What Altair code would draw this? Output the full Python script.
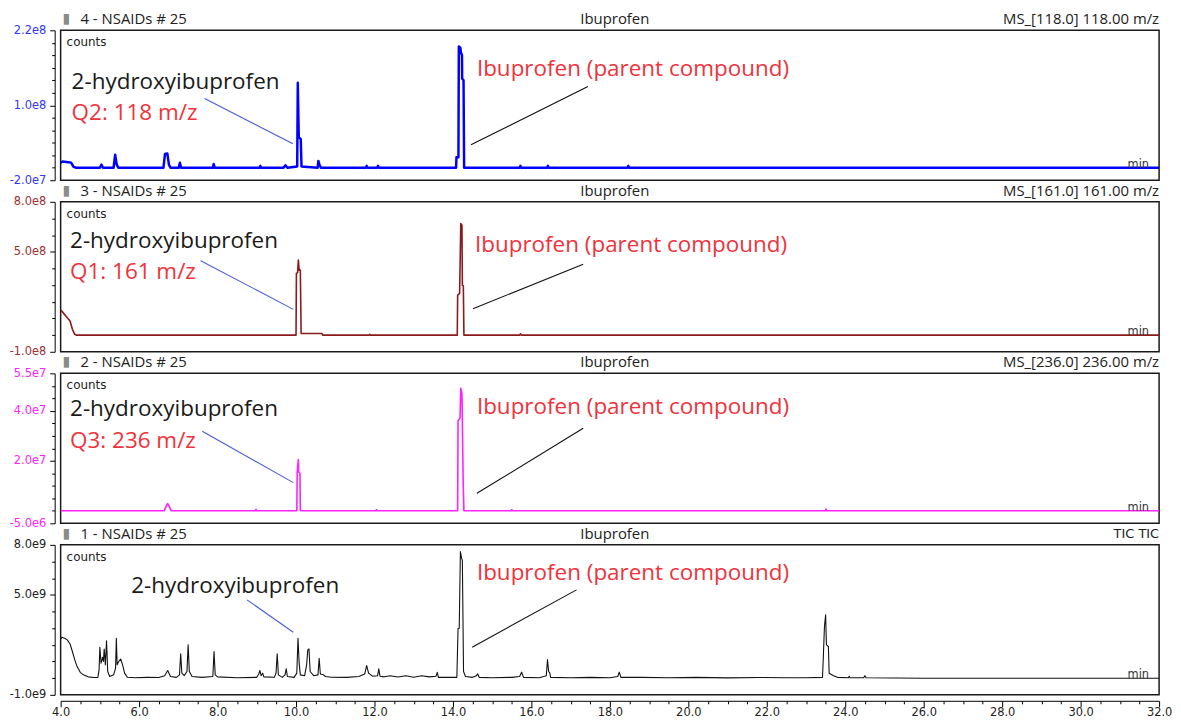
import altair as alt
import pandas as pd

# ---------------- chromatogram traces: (retention time [min], intensity [counts]) ----------------
trace_118 = [
    (4.00, 8e6), (4.05, 1.0e7), (4.20, 9e6), (4.27, 8e6), (4.33, 1.5e6), (4.40, 0),
    (5.00, 0), (5.04, 5e6), (5.08, 0), (5.35, 0), (5.39, 2.1e7), (5.43, 5e6), (5.47, 0),
    (6.62, 0), (6.66, 2.2e7), (6.72, 2.3e7), (6.76, 5e6), (6.80, 0),
    (7.01, 0), (7.04, 8e6), (7.07, 0), (7.88, 0), (7.90, 6e6), (7.93, 0),
    (9.07, 0), (9.09, 3e6), (9.11, 0), (9.68, 0), (9.73, 4e6), (9.78, 0),
    (10.03, 2e6), (10.045, 1.36e8), (10.07, 4.8e7), (10.08, 4.8e7), (10.12, 4.6e7), (10.14, 2e6),
    (10.55, 0), (10.57, 1.1e7), (10.60, 4e6), (10.64, 0),
    (11.78, 0), (11.80, 3e6), (11.82, 0), (12.07, 0), (12.09, 3e6), (12.11, 0),
    (14.08, 0), (14.09, 1.7e7), (14.14, 1.7e7), (14.15, 1.94e8), (14.19, 1.92e8), (14.20, 1.85e8),
    (14.23, 1.80e8), (14.235, 1.43e8), (14.27, 1.40e8), (14.285, 0),
    (15.70, 0), (15.72, 3e6), (15.74, 0), (16.40, 0), (16.42, 3e6), (16.44, 0),
    (18.45, 0), (18.47, 3e6), (18.49, 0), (32.0, 0),
]
trace_161 = [
    (4.00, 1.5e8), (4.03, 1.44e8), (4.15, 1.1e8), (4.24, 8.5e7), (4.30, 3.5e7), (4.36, 5e6), (4.40, 0),
    (10.00, 0), (10.01, 3.7e8), (10.04, 3.75e8), (10.06, 4.5e8), (10.08, 3.9e8), (10.11, 3.9e8),
    (10.13, 1e7), (10.66, 1e7), (10.68, 0),
    (11.86, 0), (11.88, 5e6), (11.90, 0),
    (14.11, 0), (14.12, 2.4e8), (14.17, 2.5e8), (14.20, 6.7e8), (14.23, 6.6e8), (14.24, 3.0e8),
    (14.265, 2.95e8), (14.28, 0),
    (15.70, 0), (15.72, 8e6), (15.74, 0), (32.0, 0),
]
trace_236 = [
    (4.00, 0), (6.64, 0), (6.70, 2.2e6), (6.73, 2.9e6), (6.76, 2.0e6), (6.82, 0),
    (8.96, 0), (8.98, 6e5), (9.00, 0),
    (10.02, 0), (10.03, 1.55e7), (10.06, 2.05e7), (10.07, 1.55e7), (10.10, 1.5e7), (10.11, 0),
    (12.03, 0), (12.05, 5e5), (12.07, 0),
    (14.12, 0), (14.13, 3.6e7), (14.18, 3.7e7), (14.20, 4.9e7), (14.23, 4.7e7), (14.26, 1.2e7), (14.28, 0),
    (15.48, 0), (15.50, 5e5), (15.52, 0), (23.49, 0), (23.51, 7e5), (23.53, 0), (32.0, 0),
]
trace_tic = [
    (4.00, 2.35e9), (4.03, 2.45e9), (4.10, 2.4e9), (4.17, 2.3e9), (4.24, 2.05e9), (4.30, 1.6e9),
    (4.36, 1.1e9), (4.41, 7.5e8), (4.50, 3.5e8), (4.58, 2e8), (4.70, 8e7), (4.85, 4e7), (4.95, 5e7),
    (4.98, 5e8), (5.00, 1.85e9), (5.03, 9e8), (5.07, 1.25e9), (5.09, 1.0e9), (5.11, 1.75e9),
    (5.14, 8e8), (5.17, 2.25e9), (5.20, 4e8), (5.25, 1e8), (5.35, 2e8), (5.40, 6e8), (5.42, 2.4e9),
    (5.44, 8e8), (5.48, 1.0e9), (5.53, 1.15e9), (5.58, 8e8), (5.63, 3e8), (5.70, 6e7), (5.90, 3e7),
    (6.20, 5e7), (6.50, 4e7), (6.65, 1.5e8), (6.73, 4.6e8), (6.80, 1e8), (6.95, 5e7),
    (7.03, 2e8), (7.06, 1.46e9), (7.09, 3e8), (7.15, 1.5e8), (7.22, 4e8), (7.25, 2.0e9), (7.28, 4e8),
    (7.35, 1e8), (7.60, 5e7), (7.88, 1e8), (7.91, 1.6e9), (7.94, 2e8), (8.00, 8e7), (8.50, 3e7),
    (9.00, 5e7), (9.05, 2.5e8), (9.08, 4.6e8), (9.11, 1.5e8), (9.15, 3e8), (9.18, 8e7),
    (9.45, 6e7), (9.49, 3e8), (9.52, 1.46e9), (9.55, 2e8), (9.65, 5e7), (9.72, 2e8), (9.75, 5.6e8),
    (9.78, 1e8), (9.95, 5e7), (10.02, 3e8), (10.05, 2.4e9), (10.08, 9e8), (10.11, 2e8),
    (10.22, 1.5e8), (10.27, 8e8), (10.30, 1.7e9), (10.33, 1.76e9), (10.36, 4e8), (10.45, 1.5e8),
    (10.56, 2e8), (10.59, 1.2e9), (10.62, 2.5e8), (10.70, 2e8), (10.75, 1.0e8), (10.90, 6e7),
    (11.30, 5e7), (11.60, 1e8), (11.75, 2.5e8), (11.80, 7.6e8), (11.85, 3e8), (11.95, 1.2e8),
    (12.08, 1.5e8), (12.11, 5.6e8), (12.14, 1.2e8), (12.25, 8e7), (12.40, 1.5e8), (12.60, 7e7),
    (12.80, 1.5e8), (13.00, 6e7), (13.20, 1.5e8), (13.40, 8e7), (13.57, 1.2e8), (13.60, 3.5e8),
    (13.63, 5e7), (14.10, 5e7), (14.13, 2.96e9), (14.16, 3.0e9), (14.19, 7.6e9), (14.22, 7.2e9),
    (14.24, 7.06e9), (14.27, 4e8), (14.32, 1e8), (14.50, 5e7), (14.60, 1.5e8), (14.63, 2.6e8),
    (14.67, 5e7), (15.00, 3e7), (15.50, 5e7), (15.70, 1e8), (15.75, 3.6e8), (15.80, 5e7),
    (16.20, 3e7), (16.38, 1.5e8), (16.41, 1.12e9), (16.44, 4e8), (16.47, 3e8), (16.49, 5e7),
    (17.00, 3e7), (17.50, 5e7), (18.00, 3e7), (18.20, 1e8), (18.24, 3.6e8), (18.28, 5e7),
    (18.80, 5e7), (19.50, 3e7), (20.20, 5e7), (21.00, 2e7), (21.80, 4e7), (22.50, 3e7),
    (23.00, 3e7), (23.42, 5e7), (23.44, 1.2e9), (23.47, 3.1e9), (23.50, 3.8e9), (23.52, 2.0e9),
    (23.57, 1.9e9), (23.59, 3e8), (23.70, 1.5e8), (23.80, 5e7), (24.08, 3e7), (24.10, 1.2e8),
    (24.12, 3e7), (24.47, 3e7), (24.50, 1.5e8), (24.53, 3e7), (26.00, 0), (32.0, 0),
]

# ---------------- panel texts ----------------
panel_ids = ["4 - NSAIDs # 25", "3 - NSAIDs # 25", "2 - NSAIDs # 25", "1 - NSAIDs # 25"]
panel_compound = ["Ibuprofen", "Ibuprofen", "Ibuprofen", "Ibuprofen"]
panel_channel = ["MS_[118.0] 118.00 m/z", "MS_[161.0] 161.00 m/z", "MS_[236.0] 236.00 m/z", "TIC TIC"]
metab_label = "2-hydroxyibuprofen"
parent_label = "Ibuprofen (parent compound)"
quant_labels = ["Q2: 118 m/z", "Q1: 161 m/z", "Q3: 236 m/z", ""]

# ---------------- axes ----------------
x_domain = [4.0, 32.0]
x_ticks = [4.0 + 0.5 * i for i in range(57)]
y_domains = [[-2e7, 2.2e8], [-1e8, 8e8], [-5e6, 5.5e7], [-1e9, 8e9]]
y_ticks = [
    [-2e7, 0, 2e7, 4e7, 6e7, 8e7, 1e8, 1.2e8, 1.4e8, 1.6e8, 1.8e8, 2.0e8, 2.2e8],
    [-1e8, 0, 1e8, 2e8, 3e8, 4e8, 5e8, 6e8, 7e8, 8e8],
    [-5e6, 0, 5e6, 1e7, 1.5e7, 2e7, 2.5e7, 3e7, 3.5e7, 4e7, 4.5e7, 5e7, 5.5e7],
    [-1e9, 0, 1e9, 2e9, 3e9, 4e9, 5e9, 6e9, 7e9, 8e9],
]
y_labels = [
    {2.2e8: "2.2e8", 1.0e8: "1.0e8", -2e7: "-2.0e7"},
    {8e8: "8.0e8", 5e8: "5.0e8", -1e8: "-1.0e8"},
    {5.5e7: "5.5e7", 4e7: "4.0e7", 2e7: "2.0e7", -5e6: "-5.0e6"},
    {8e9: "8.0e9", 5e9: "5.0e9", -1e9: "-1.0e9"},
]

# ---------------- annotation anchor points (data units) ----------------
metab_text_pos = [(4.28, 1.37e8), (4.24, 5.66e8), (4.24, 4.06e7), (5.80, 5.55e9)]
quant_text_pos = [(4.28, 8.74e7), (4.24, 3.80e8), (4.24, 2.80e7), (4.24, 0)]
parent_text_pos = [(14.61, 1.584e8), (14.56, 5.39e8), (14.61, 4.16e7), (14.61, 6.30e9)]
metab_leader = [(7.67, 1.11e8, 9.92, 3.84e7), (7.57, 4.47e8, 9.93, 1.546e8),
                (7.61, 3.18e7, 9.93, 1.128e7), (8.75, 4.7e9, 9.93, 2.76e9)]
parent_leader = [(14.46, 3.68e7, 17.44, 1.30e8), (14.51, 1.59e8, 17.32, 4.25e8),
                 (14.61, 7e6, 17.32, 3.3e7), (14.49, 1.86e9, 17.15, 5.3e9)]
min_pos = (31.47, 0)

# ---------------- styles ----------------
traces = [trace_118, trace_161, trace_236, trace_tic]
line_colors = ["#0000ff", "#8b1a1a", "#ff22ff", "#111111"]
line_widths = [2.5, 1.6, 1.6, 1.1]
label_colors = ["#3333ff", "#9b3030", "#ff22ff", "#222222"]
PLOT_W = 1106
PLOT_H = 151
HDR_Y = -11
FONT_HDR = "Open Sans"
FONT_TXT = "Open Sans"
FONT_AX = "DejaVu Sans"


def y_axis(i):
    labs = y_labels[i]
    expr = ""
    for v, s in labs.items():
        expr += f"abs(datum.value - ({v!r})) < 1 ? '{s}' : "
    expr += "''"
    test = " || ".join(f"abs(datum.value - ({v!r})) < 1" for v in labs)
    return alt.Axis(
        values=y_ticks[i], labelExpr=expr, labelColor=label_colors[i], labelFont=FONT_AX,
        labelFontSize=11.5, labelPadding=4, offset=6, grid=False, title=None,
        labelOverlap=False, labelFlush=False, domainColor="#000", tickColor="#000",
        tickSize={"condition": {"test": test, "value": 5}, "value": 3},
    )


def x_axis(last):
    if not last:
        return None
    return alt.Axis(
        values=x_ticks, labelExpr="abs(datum.value % 2) < 0.01 ? format(datum.value, '.1f') : ''",
        labelFont=FONT_AX, labelFontSize=11.5, labelColor="#222", labelPadding=0, offset=6,
        grid=False, title=None, labelOverlap=False, labelFlush=False,
        domainColor="#000", tickColor="#000",
        tickSize={"condition": {"test": "abs(datum.value % 2) < 0.01", "value": 6}, "value": 3},
    )


def panel(i):
    last = i == 3
    xs = alt.Scale(domain=x_domain, nice=False, zero=False)
    ys = alt.Scale(domain=y_domains[i], nice=False, zero=False)
    xa = x_axis(last)
    ya = y_axis(i)

    def X(f):
        return alt.X(f, type="quantitative", scale=xs, axis=xa, title=None)

    def Y(f):
        return alt.Y(f, type="quantitative", scale=ys, axis=ya, title=None)

    df = pd.DataFrame(traces[i], columns=["t", "v"])
    line = alt.Chart(df).mark_line(
        color=line_colors[i], strokeWidth=line_widths[i], strokeJoin="round", clip=True
    ).encode(x=X("t"), y=Y("v"))

    # annotation texts
    rows = [
        {"t": metab_text_pos[i][0], "v": metab_text_pos[i][1], "s": metab_label, "c": "#1a1a1a"},
        {"t": parent_text_pos[i][0], "v": parent_text_pos[i][1], "s": parent_label, "c": "#f0323c"},
    ]
    if quant_labels[i]:
        rows.append({"t": quant_text_pos[i][0], "v": quant_text_pos[i][1], "s": quant_labels[i], "c": "#f0323c"})
    tdf = pd.DataFrame(rows)
    texts = alt.Chart(tdf).mark_text(
        font=FONT_TXT, fontSize=22.6, align="left", baseline="middle"
    ).encode(x=X("t"), y=Y("v"), text="s:N", color=alt.Color("c:N", scale=None))

    ldf = pd.DataFrame([
        {"t": metab_leader[i][0], "v": metab_leader[i][1], "t2": metab_leader[i][2], "v2": metab_leader[i][3], "c": "#4a5ad8"},
        {"t": parent_leader[i][0], "v": parent_leader[i][1], "t2": parent_leader[i][2], "v2": parent_leader[i][3], "c": "#111111"},
    ])
    leaders = alt.Chart(ldf).mark_rule(strokeWidth=1.1).encode(
        x=X("t"), y=Y("v"), x2=alt.X2("t2"), y2=alt.Y2("v2"), color=alt.Color("c:N", scale=None)
    )

    mdf = pd.DataFrame([{"t": min_pos[0], "v": min_pos[1], "s": "min"}])
    mins = alt.Chart(mdf).mark_text(
        font=FONT_AX, fontSize=11.5, align="center", baseline="alphabetic", color="#333"
    ).encode(x=X("t"), y=Y("v"), text="s:N")

    # header row
    hdr_left = alt.Chart(pd.DataFrame({"s": [panel_ids[i]]})).mark_text(
        font=FONT_HDR, fontSize=15, align="left", baseline="middle", color="#222"
    ).encode(x=alt.value(20), y=alt.value(HDR_Y), text="s:N")
    hdr_icon = alt.Chart(pd.DataFrame({"s": ["\u25AE"]})).mark_text(
        font="DejaVu Sans", fontSize=14, align="center", baseline="middle", color="#8a8a8a"
    ).encode(x=alt.value(6), y=alt.value(HDR_Y), text="s:N")
    hdr_mid = alt.Chart(pd.DataFrame({"s": [panel_compound[i]]})).mark_text(
        font=FONT_HDR, fontSize=15, align="center", baseline="middle", color="#222"
    ).encode(x=alt.value(558), y=alt.value(HDR_Y), text="s:N")
    hdr_right = alt.Chart(pd.DataFrame({"s": [panel_channel[i]]})).mark_text(
        font=FONT_HDR if i < 3 else FONT_AX, fontSize=15 if i < 3 else 13,
        align="right", baseline="middle", color="#222"
    ).encode(x=alt.value(PLOT_W), y=alt.value(HDR_Y), text="s:N")
    counts = alt.Chart(pd.DataFrame({"s": ["counts"]})).mark_text(
        font=FONT_AX, fontSize=12, align="left", baseline="middle", color="#222"
    ).encode(x=alt.value(6), y=alt.value(12), text="s:N")

    return alt.layer(
        line, leaders, texts, mins, hdr_icon, hdr_left, hdr_mid, hdr_right, counts
    ).properties(width=PLOT_W, height=PLOT_H)


chart = alt.vconcat(
    *[panel(i) for i in range(4)], spacing=21.7, bounds="flush"
).properties(
    padding={"left": 0, "top": 1, "right": 0, "bottom": 0}, background="white"
).configure_view(
    stroke="#1a1a1a", strokeWidth=1.5
)

chart.save("out.html", embed_options={"renderer": "svg", "actions": False})
